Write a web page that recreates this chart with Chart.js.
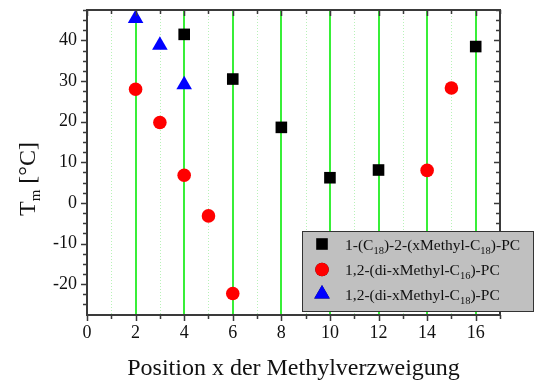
<!DOCTYPE html>
<html>
<head>
<meta charset="utf-8">
<script src="https://cdn.jsdelivr.net/npm/chart.js@4/dist/chart.umd.min.js"></script>
<style>
  html, body { margin: 0; padding: 0; background: #fff; }
  #wrap { width: 535px; height: 381px; }
</style>
</head>
<body>
<div id="wrap"><canvas id="c" width="535" height="381"></canvas></div>
<script>
// Methyl branch position x
const xTickValues = [0, 1, 2, 3, 4, 5, 6, 7, 8, 9, 10, 11, 12, 13, 14, 15, 16, 17];
const yTickValues = [-20, -10, 0, 10, 20, 30, 40];

// 1-(C18)-2-(xMethyl-C18)-PC
const monoX = [4, 6, 8, 10, 12, 16];
const monoTm = [41.5, 30.5, 18.6, 6.2, 8.1, 38.5];

// 1,2-(di-xMethyl-C16)-PC
const diC16X = [2, 3, 4, 5, 6, 14, 15];
const diC16Tm = [28.0, 19.8, 6.8, -3.2, -22.3, 8.0, 28.3];

// 1,2-(di-xMethyl-C18)-PC
const diC18X = [2, 3, 4];
const diC18Tm = [45.4, 38.8, 29.1];

const seriesLabels = [
  '1-(C_{18})-2-(xMethyl-C_{18})-PC',
  '1,2-(di-xMethyl-C_{16})-PC',
  '1,2-(di-xMethyl-C_{18})-PC'
];

const xTitle = 'Position x der Methylverzweigung';
const yTitle = 'T_{m} [°C]';

const SERIF = "'Liberation Serif', 'Times New Roman', serif";

function toPoints(xs, ys) {
  return xs.map((x, i) => ({ x: x, y: ys[i] }));
}

// split "A_{sub}B" into plain / subscript runs
function parseRich(str) {
  const parts = [];
  const re = /_\{([^}]*)\}/g;
  let last = 0, m;
  while ((m = re.exec(str)) !== null) {
    if (m.index > last) parts.push({ t: str.slice(last, m.index), sub: false });
    parts.push({ t: m[1], sub: true });
    last = re.lastIndex;
  }
  if (last < str.length) parts.push({ t: str.slice(last), sub: false });
  return parts;
}

function richWidth(ctx, parts, size, subSize) {
  let w = 0;
  for (const p of parts) {
    ctx.font = (p.sub ? subSize : size) + 'px ' + SERIF;
    w += ctx.measureText(p.t).width;
  }
  return w;
}

function drawRich(ctx, parts, x, y, size, subSize, subDrop) {
  let cx = x;
  ctx.textBaseline = 'alphabetic';
  ctx.textAlign = 'left';
  for (const p of parts) {
    ctx.font = (p.sub ? subSize : size) + 'px ' + SERIF;
    ctx.fillText(p.t, cx, p.sub ? y + subDrop : y);
    cx += ctx.measureText(p.t).width;
  }
}

const axisFrame = {
  id: 'axisFrame',
  beforeDatasetsDraw(chart) {
    const { ctx, chartArea: a, scales: { x } } = chart;
    ctx.save();
    xTickValues.forEach(v => {
      if (v <= 0 || v >= 17) return;
      ctx.beginPath();
      let px;
      if (v % 2 === 0) {
        px = Math.round(x.getPixelForValue(v));
        ctx.strokeStyle = '#22ee22';
        ctx.lineWidth = 1.8;
        ctx.setLineDash([]);
      } else {
        px = Math.round(x.getPixelForValue(v)) + 0.5;
        ctx.strokeStyle = '#b8f2b8';
        ctx.lineWidth = 1;
        ctx.setLineDash([1, 2]);
      }
      ctx.moveTo(px, a.top);
      ctx.lineTo(px, a.bottom);
      ctx.stroke();
    });
    ctx.restore();
  },
  afterDatasetsDraw(chart) {
    const { ctx, chartArea: a, scales: { x, y } } = chart;
    ctx.save();
    ctx.strokeStyle = '#3a3a3a';
    ctx.lineWidth = 1.5;
    ctx.setLineDash([]);
    // x ticks: outward on the bottom, inward on the top
    xTickValues.forEach(v => {
      const px = Math.round(x.getPixelForValue(v)) + 0.5;
      const len = v % 2 === 0 ? 6 : 4;
      ctx.beginPath();
      ctx.moveTo(px, a.bottom); ctx.lineTo(px, a.bottom + len);
      ctx.moveTo(px, a.top); ctx.lineTo(px, a.top + len);
      ctx.stroke();
    });
    // y ticks every 2.5: outward on the left, inward on the right
    for (let v = -27.5; v <= 47.5; v += 2.5) {
      const py = Math.round(y.getPixelForValue(v)) + 0.5;
      if (py < a.top || py > a.bottom) continue;
      const major = Math.abs(v % 10) < 1e-6;
      const len = major ? 6 : 4;
      ctx.beginPath();
      ctx.moveTo(a.left, py); ctx.lineTo(a.left - len, py);
      ctx.moveTo(a.right, py); ctx.lineTo(a.right - len, py);
      ctx.stroke();
    }
    // frame
    ctx.lineWidth = 2;
    ctx.strokeRect(a.left, a.top, a.right - a.left, a.bottom - a.top);
    ctx.restore();
  },
  afterDraw(chart) {
    const { ctx, chartArea: a } = chart;
    ctx.save();
    ctx.fillStyle = '#111';

    // x axis title
    ctx.font = '24px ' + SERIF;
    ctx.textAlign = 'center';
    ctx.textBaseline = 'alphabetic';
    ctx.fillText(xTitle, (a.left + a.right) / 2, 375);

    // y axis title, rotated, with subscript
    const yParts = parseRich(yTitle);
    const yw = richWidth(ctx, yParts, 24, 15);
    ctx.save();
    ctx.translate(35, 179);
    ctx.rotate(-Math.PI / 2);
    drawRich(ctx, yParts, -yw / 2, 0, 24, 15, 5);
    ctx.restore();

    // legend box
    const bx = 302, by = 231, bw = 232, bh = 81;
    ctx.fillStyle = '#c0c0c0';
    ctx.fillRect(bx, by, bw, bh);
    ctx.strokeStyle = '#333';
    ctx.lineWidth = 1;
    ctx.strokeRect(bx + 0.5, by + 0.5, bw - 1, bh - 1);

    const rowY = [244, 269.5, 294];
    chart.data.datasets.forEach((ds, i) => {
      const cy = rowY[i];
      Chart.helpers.drawPoint(ctx, {
        pointStyle: ds.pointStyle,
        radius: ds.pointRadius,
        borderWidth: 0,
        rotation: 0
      }, 322, cy);
      ctx.fillStyle = ds.backgroundColor;
      ctx.fill();
      ctx.fillStyle = '#111';
      drawRich(ctx, parseRich(ds.label), 345, cy + 5.5, 15.5, 10.5, 4);
    });
    ctx.restore();
  }
};

const tickFont = { family: SERIF, size: 18 };

new Chart(document.getElementById('c'), {
  type: 'scatter',
  data: {
    datasets: [
      {
        label: seriesLabels[0],
        data: toPoints(monoX, monoTm),
        pointStyle: 'rect',
        pointRadius: 8.2,
        pointHoverRadius: 8.2,
        backgroundColor: '#000000',
        borderColor: '#000000',
        borderWidth: 0,
        clip: false
      },
      {
        label: seriesLabels[1],
        data: toPoints(diC16X, diC16Tm),
        pointStyle: 'circle',
        pointRadius: 6.8,
        pointHoverRadius: 6.8,
        backgroundColor: '#ff0000',
        borderColor: '#ff0000',
        borderWidth: 0,
        clip: false
      },
      {
        label: seriesLabels[2],
        data: toPoints(diC18X, diC18Tm),
        pointStyle: 'triangle',
        pointRadius: 9,
        pointHoverRadius: 9,
        backgroundColor: '#0000ff',
        borderColor: '#0000ff',
        borderWidth: 0,
        clip: false
      }
    ]
  },
  options: {
    responsive: false,
    animation: false,
    devicePixelRatio: 1,
    layout: { padding: { left: 0, right: 35, top: 10, bottom: 0 } },
    plugins: {
      legend: { display: false },
      tooltip: { enabled: false }
    },
    scales: {
      x: {
        type: 'linear',
        min: 0,
        max: 17,
        afterBuildTicks: s => { s.ticks = xTickValues.map(v => ({ value: v })); },
        afterFit: s => {
          s.height = 66;
          s.paddingLeft = 0; s.paddingRight = 0;
        },
        grid: { display: false, drawTicks: false },
        border: { display: false },
        ticks: {
          font: tickFont,
          color: '#111',
          padding: 7,
          maxRotation: 0,
          autoSkip: false,
          callback: v => (v % 2 === 0 && v <= 16 ? String(v) : '')
        }
      },
      y: {
        type: 'linear',
        min: -27.6,
        max: 47.5,
        afterBuildTicks: s => { s.ticks = yTickValues.map(v => ({ value: v })); },
        afterFit: s => {
          s.width = 87;
          s.paddingTop = 0; s.paddingBottom = 0;
        },
        grid: { display: false, drawTicks: false },
        border: { display: false },
        ticks: {
          font: tickFont,
          color: '#111',
          padding: 10,
          autoSkip: false,
          callback: v => String(v)
        }
      }
    }
  },
  plugins: [axisFrame]
});
</script>
</body>
</html>
